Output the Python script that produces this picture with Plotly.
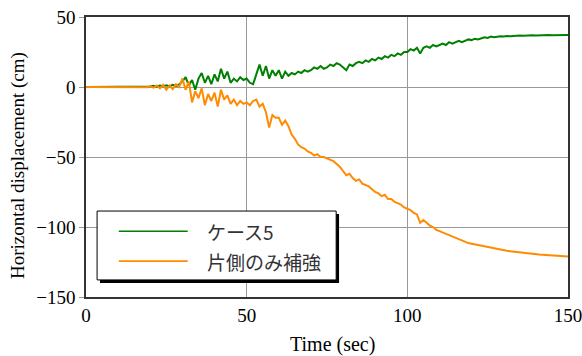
import plotly.graph_objects as go

TIME = list(range(0, 151))

CASE5 = [
    0, 0, 0, 0, 0, 0, 0, 0, 0, 0, 0, 0, 0, 0, 0, 0, 0.1, 0, 0.2, 0.1,
    0.3, 0.8, 0.2, 1.0, 0.5, 1.2, 0.4, 1.5, 0.8, 1.8,
    4, 7, 1, 5, -2, 6, 10, 3, 8, 2,
    9, 4, 13, 6, 11, 3, 6, 4, 7, 5,
    6, 3, 2, 9, 16, 8, 15, 6, 12, 8,
    12, 6, 11, 8, 10, 9, 11, 10, 12, 11,
    12, 14, 13, 15, 13, 14, 16, 15, 17, 16,
    14, 12, 16, 15, 17, 18, 17, 19, 18, 20,
    19, 21, 20, 22, 21, 23, 22, 24, 23, 25,
    25, 27, 26, 28, 24, 28, 29, 28, 30, 29,
    30, 31, 30, 32, 31, 32, 33, 32, 33, 34,
    33.5, 34.5, 34, 35, 35.5, 35, 36, 35.5, 36, 36.2,
    36, 36.5, 36.3, 36.6, 36.4, 36.7, 36.6, 36.8, 36.7, 36.9,
    36.8, 37, 36.9, 37, 37.1, 37, 37.1, 37.2, 37.1, 37.2, 37.2,
]

ONE_SIDE = [
    0, 0, 0, 0, 0, 0, 0, 0, 0, 0, 0, 0, 0, 0, 0, -0.1, 0, -0.2, 0.1, -0.2,
    0.5, -0.5, 1, -1, 1.5, -2, 1, -1.5, 2, 0,
    6, -2, 4, -11, -3, -8, -1, -13, -5, -10,
    -4, -14, -2, -9, -6, -12, -9, -13, -10, -12,
    -11, -13, -10, -9, -14, -12, -18, -29, -20, -22,
    -22, -27, -24, -28, -34, -37, -41, -43, -44, -46,
    -47, -49, -48, -50, -50, -51, -52, -53, -55, -57,
    -60, -63, -62, -65, -67, -66, -69, -70, -71, -73,
    -75, -76, -78, -77, -80, -80, -82, -83, -84, -86,
    -87, -88, -90, -91, -97, -95, -97, -99, -100, -102,
    -103, -104, -105, -106, -107, -108, -109, -110, -111, -111.5,
    -112, -112.5, -113, -113.5, -114, -114.5, -115, -115.5, -116, -116.3,
    -116.7, -117, -117.3, -117.6, -118, -118.2, -118.5, -118.7, -119, -119.2,
    -119.4, -119.6, -119.8, -120, -120.1, -120.3, -120.4, -120.5, -120.6, -120.8, -121,
]

NAMES = ["ケース5", "片側のみ補強"]
COLORS = ["#008000", "#ff8c00"]
X_TICKS = [0, 50, 100, 150]
Y_TICKS = [-150, -100, -50, 0, 50]
Y_TICK_LABELS = ["\u2212150", "\u2212100", "\u221250", "0", "50"]
X_TITLE = "Time (sec)"
Y_TITLE = "Horizontal displacement (cm)"

SERIF = "Liberation Serif, Times New Roman, serif"
CJK = "Noto Sans CJK JP"

fig = go.Figure()
for vals, name, col in zip([CASE5, ONE_SIDE], NAMES, COLORS):
    fig.add_trace(go.Scatter(x=TIME, y=vals, mode="lines", name=name,
                             line=dict(color=col, width=2), showlegend=False))

# manual legend (box with drop shadow)
lx0, lx1, ly0, ly1 = 0.023, 0.519, 0.061, 0.307
fig.add_shape(type="rect", xref="paper", yref="paper",
              x0=lx0 + 0.006, x1=lx1 + 0.006, y0=ly0 - 0.011, y1=ly1 - 0.011,
              fillcolor="black", line=dict(width=0))
fig.add_shape(type="rect", xref="paper", yref="paper",
              x0=lx0, x1=lx1, y0=ly0, y1=ly1,
              fillcolor="white", line=dict(color="black", width=1))
rows_y = [0.235, 0.128]
for name, col, ry in zip(NAMES, COLORS, rows_y):
    fig.add_shape(type="line", xref="paper", yref="paper",
                  x0=0.068, x1=0.211, y0=ry, y1=ry,
                  line=dict(color=col, width=1.6))
    fig.add_annotation(xref="paper", yref="paper", x=0.246, y=ry,
                       text=name, showarrow=False, xanchor="left", yanchor="middle",
                       font=dict(family=CJK, size=19, color="#333"))

# axis titles
fig.add_annotation(xref="paper", yref="paper", x=0.512, y=-0.168,
                   text=X_TITLE, showarrow=False, xanchor="center", yanchor="middle",
                   font=dict(family=SERIF, size=20, color="black"))
fig.add_annotation(xref="paper", yref="paper", x=-0.141, y=0.468,
                   text=Y_TITLE, showarrow=False, textangle=-90,
                   xanchor="center", yanchor="middle",
                   font=dict(family=SERIF, size=19, color="black"))

fig.update_layout(
    width=582, height=356,
    margin=dict(l=86, r=14, t=17, b=59),
    paper_bgcolor="white", plot_bgcolor="white",
    font=dict(family=SERIF, size=19, color="black"),
)
fig.update_xaxes(range=[0, 150], tickvals=X_TICKS, showgrid=True,
                 gridcolor="#999", gridwidth=1, zeroline=False,
                 showline=True, mirror=True, linecolor="#333", linewidth=1.5,
                 ticks="", tickfont=dict(family=SERIF, size=19), automargin=False,
                 ticklabeloverflow="allow")
fig.update_yaxes(range=[-150, 50], tickvals=Y_TICKS, ticktext=Y_TICK_LABELS,
                 showgrid=True, gridcolor="#999", gridwidth=1, zeroline=False,
                 showline=True, mirror=True, linecolor="#333", linewidth=1.5,
                 ticks="outside", ticklen=5, tickcolor="#999", automargin=False,
                 ticklabeloverflow="allow",
                 tickfont=dict(family=SERIF, size=19))

fig.write_html("out.html", post_script="document.body.style.margin='0';",
               config={"displayModeBar": False})
